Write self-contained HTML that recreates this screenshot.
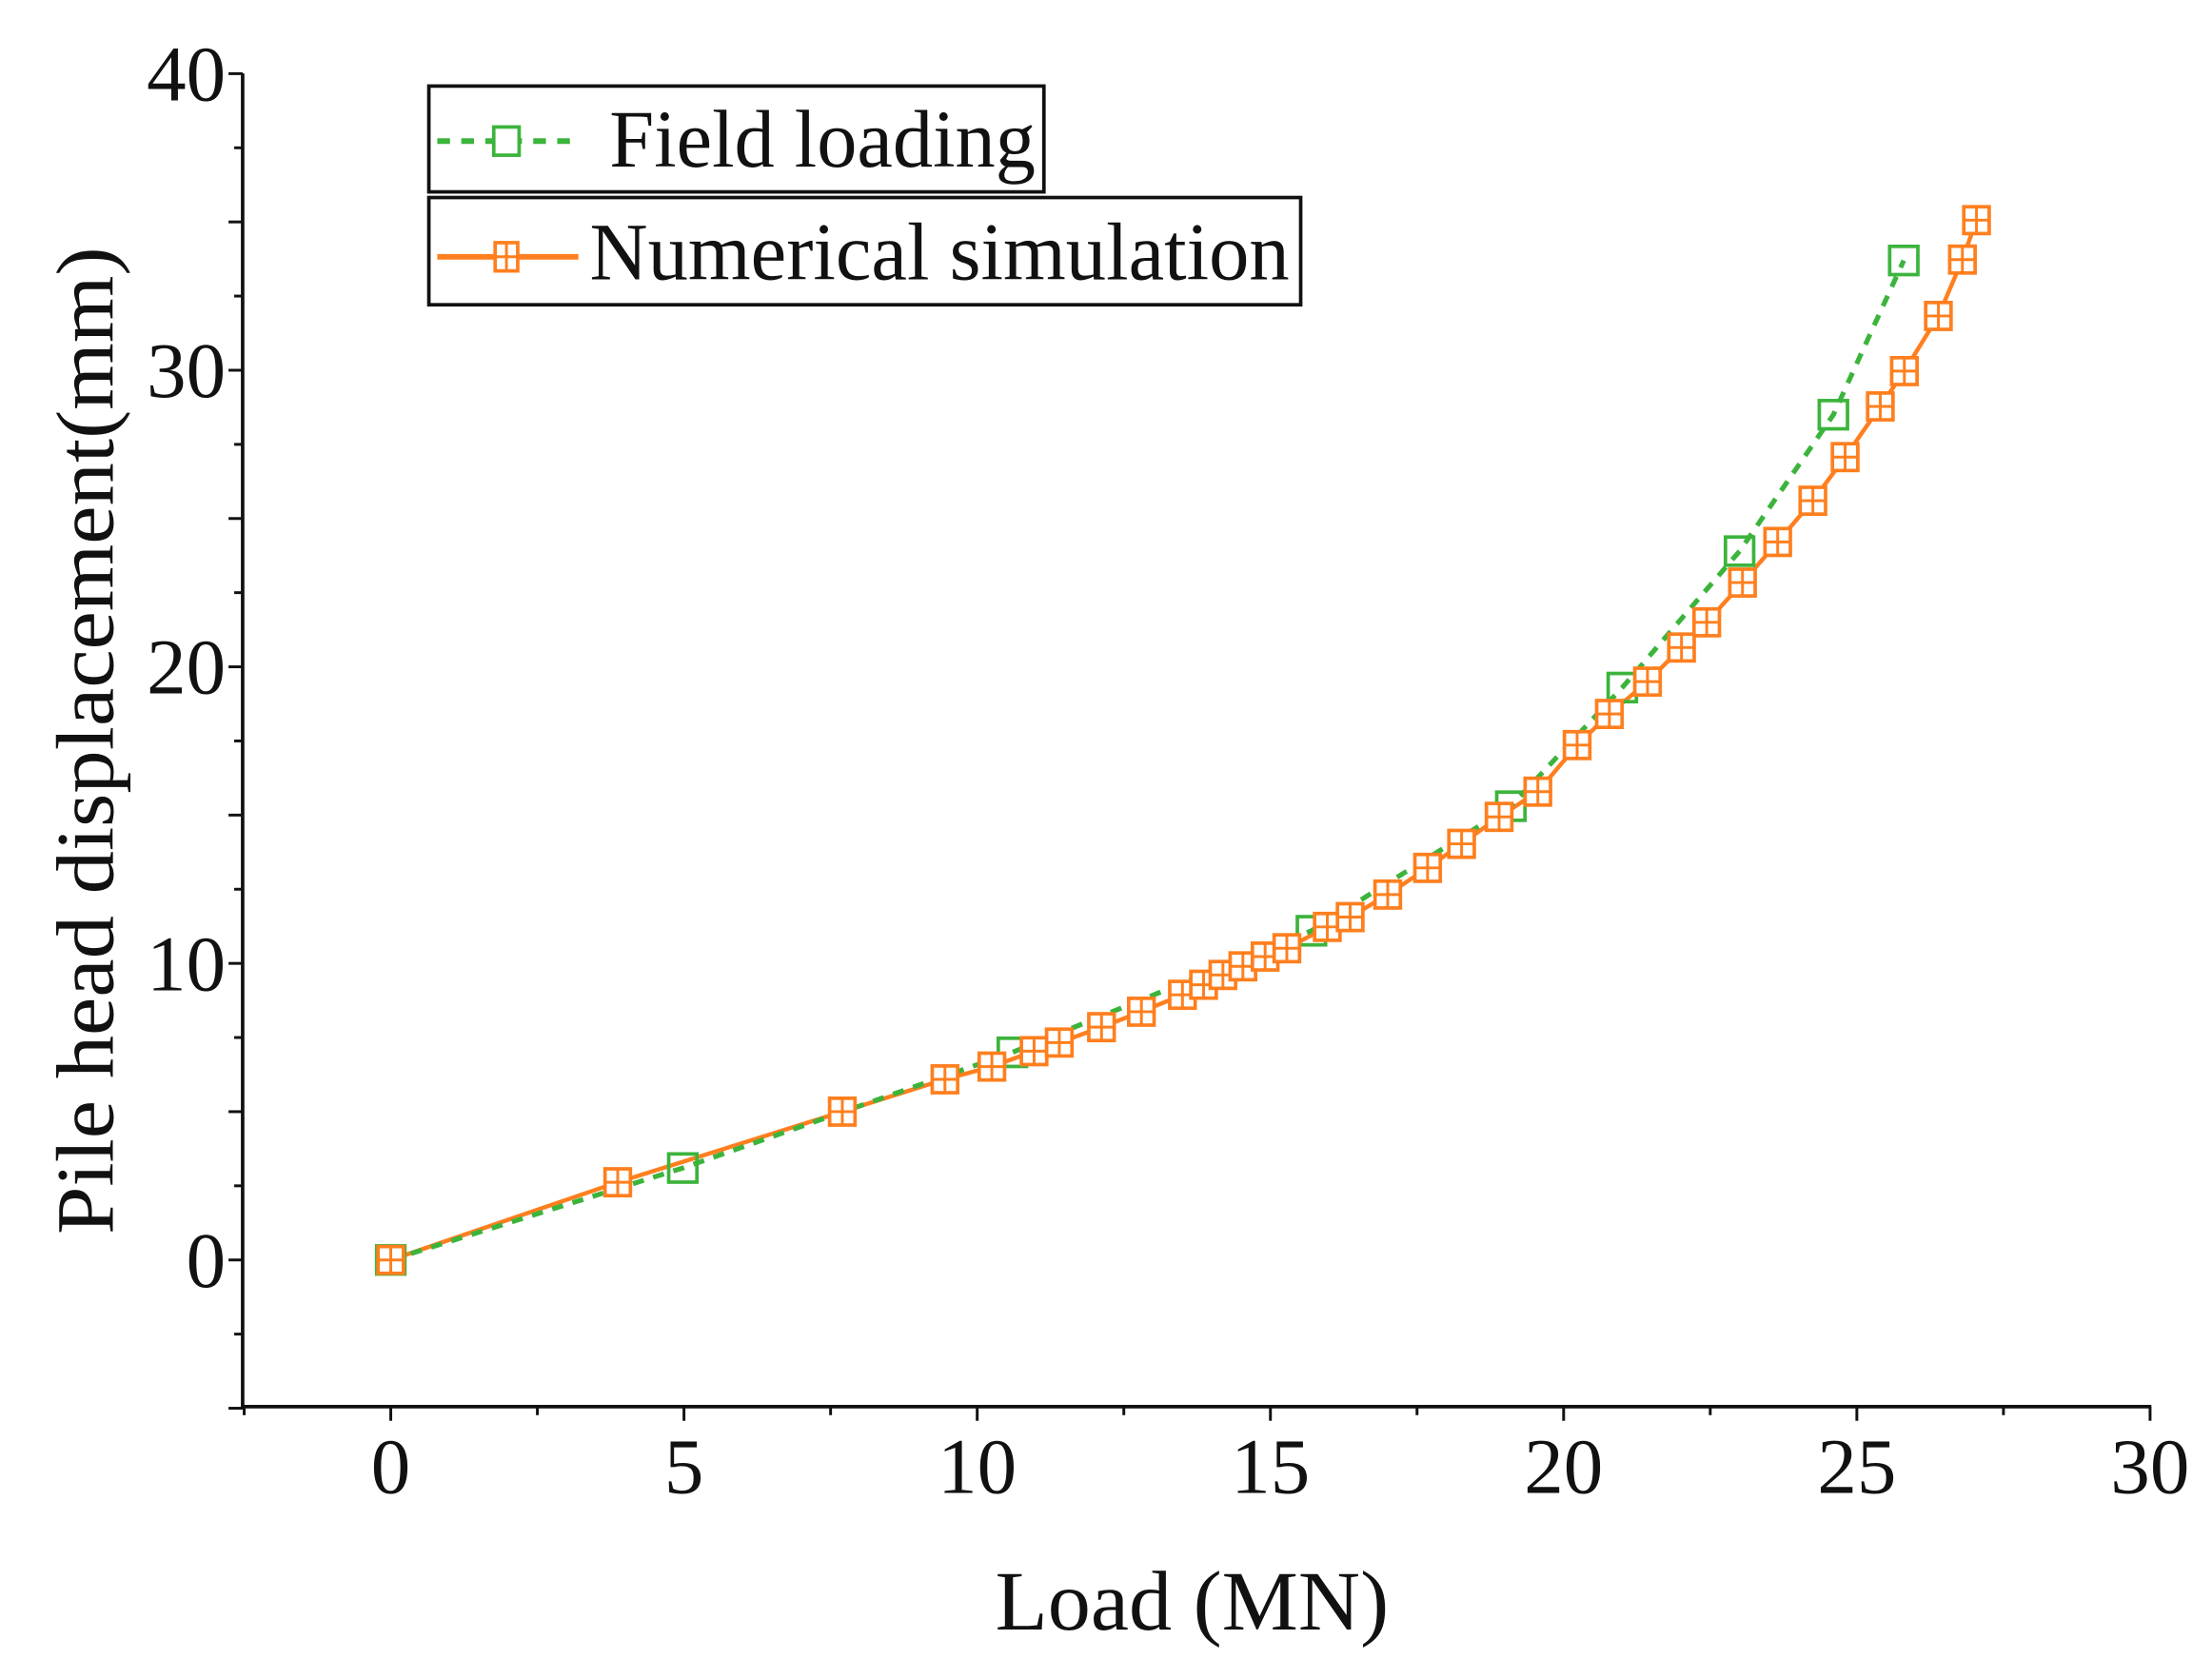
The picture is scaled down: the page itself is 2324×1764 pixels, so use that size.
<!DOCTYPE html>
<html><head><meta charset="utf-8"><style>
html,body{margin:0;padding:0;background:#fff;}
svg{display:block;}
text{font-family:"Liberation Serif",serif;fill:#111;}
</style></head><body>
<svg id="chart" width="2324" height="1764" viewBox="0 0 1568 1190" preserveAspectRatio="none" xmlns="http://www.w3.org/2000/svg">
<g id="axes"></g>
<g id="series"></g>
<g>
 <rect x="304" y="61" width="436" height="75" fill="#fff" stroke="#111" stroke-width="2.5"/>
 <line x1="310" y1="100" x2="410" y2="100" stroke="#3cb43c" stroke-width="4" stroke-dasharray="9,8"/>
 <rect x="350" y="90" width="18" height="20" fill="#fff" stroke="#3cb43c" stroke-width="2.5"/>
 <text x="432" y="118" font-size="58" textLength="302" lengthAdjust="spacingAndGlyphs">Field loading</text>
 <rect x="304" y="140" width="618" height="76" fill="#fff" stroke="#111" stroke-width="2.5"/>
 <line x1="310" y1="182" x2="410" y2="182" stroke="#ff7f1e" stroke-width="4"/>
 <g transform="translate(359,182)"><rect x="-8" y="-10" width="16" height="20" fill="#fff" stroke="#ff7f1e" stroke-width="2.5"/><line x1="0" y1="-10" x2="0" y2="10" stroke="#ff7f1e" stroke-width="2"/><line x1="-8" y1="0" x2="8" y2="0" stroke="#ff7f1e" stroke-width="2"/></g>
 <text x="418" y="198" font-size="58" textLength="496" lengthAdjust="spacingAndGlyphs">Numerical simulation</text>
</g>
</svg>
<script>
const xTicks=[0,5,10,15,20,25,30];
const yTicks=[0,10,20,30,40];
const fieldLoad=[0,4.98,10.6,15.7,19.1,21.0,23.0,24.6,25.8];
const fieldDisp=[0,3.1,7.0,11.1,15.3,19.3,23.9,28.5,33.7];
const simLoad=[0,3.87,7.7,9.45,10.25,10.97,11.4,12.12,12.8,13.5,13.86,14.19,14.53,14.91,15.28,15.97,16.36,17.0,17.68,18.26,18.9,19.56,20.23,20.78,21.43,22.01,22.44,23.05,23.65,24.25,24.8,25.4,25.81,26.39,26.8,27.04];
const simDisp=[0,2.62,5.0,6.09,6.52,7.04,7.33,7.85,8.37,8.94,9.28,9.61,9.9,10.23,10.51,11.23,11.56,12.32,13.22,14.03,14.94,15.79,17.36,18.41,19.5,20.65,21.5,22.84,24.21,25.6,27.07,28.78,29.97,31.83,33.73,35.06];
const NS="http://www.w3.org/2000/svg";
const X=v=>277+v*41.57, Y=v=>893-v*21.02;
function mk(tag,attrs,parent){const e=document.createElementNS(NS,tag);for(const k in attrs)e.setAttribute(k,attrs[k]);parent.appendChild(e);return e;}
const ax=document.getElementById('axes');
let a=mk('line',{x1:172,y1:52,x2:172,y2:998,stroke:'#111','stroke-width':2.5},ax);


a=mk('line',{x1:171,y1:997,x2:1525,y2:997,stroke:'#111','stroke-width':2.5},ax);


for(let v=-2.5;v<=30;v+=2.5){const maj=Math.abs(v%5)<1e-6;mk('line',{x1:X(v),y1:997,x2:X(v),y2:997+(maj?10:6),stroke:'#111','stroke-width':2},ax);}
for(let v=-5;v<=40;v+=2.5){const maj=Math.abs(v%5)<1e-6;mk('line',{x1:172,y1:Y(v),x2:172-(maj?10:6),y2:Y(v),stroke:'#111','stroke-width':2},ax);}
xTicks.forEach(v=>{const t=mk('text',{x:X(v),y:1058,'font-size':56,'text-anchor':'middle'},ax);t.textContent=v;

});
yTicks.forEach(v=>{const t=mk('text',{x:160,y:Y(v)+19,'font-size':56,'text-anchor':'end'},ax);t.textContent=v;

});
let t=mk('text',{x:845,y:1155,'font-size':60,'text-anchor':'middle',textLength:279,lengthAdjust:'spacingAndGlyphs'},ax);t.textContent='Load (MN)';


t=mk('text',{x:0,y:0,'font-size':58,'text-anchor':'middle',textLength:700,lengthAdjust:'spacingAndGlyphs',transform:'translate(80,525) rotate(-90)'},ax);t.textContent='Pile head displacement(mm)';


const sg=document.getElementById('series');
let p=mk('polyline',{points:simLoad.map((v,i)=>X(v)+','+Y(simDisp[i])).join(' '),fill:'none',stroke:'#ff7f1e','stroke-width':3},sg);


p=mk('polyline',{points:fieldLoad.map((v,i)=>X(v)+','+Y(fieldDisp[i])).join(' '),fill:'none',stroke:'#3cb43c','stroke-width':3.5,'stroke-dasharray':'8,7'},sg);


fieldLoad.forEach((v,i)=>{const r=mk('rect',{x:X(v)-10,y:Y(fieldDisp[i])-10,width:20,height:20,fill:'none',stroke:'#3cb43c','stroke-width':2.5},sg);

});
simLoad.forEach((v,i)=>{const g=mk('g',{transform:`translate(${X(v)},${Y(simDisp[i])})`},sg);


mk('rect',{x:-9,y:-9.5,width:18,height:19,fill:'#fff',stroke:'#ff7f1e','stroke-width':2.5},g);
mk('line',{x1:0,y1:-9.5,x2:0,y2:9.5,stroke:'#ff7f1e','stroke-width':2},g);
mk('line',{x1:-9,y1:0,x2:9,y2:0,stroke:'#ff7f1e','stroke-width':2},g);});
</script>
</body></html>
